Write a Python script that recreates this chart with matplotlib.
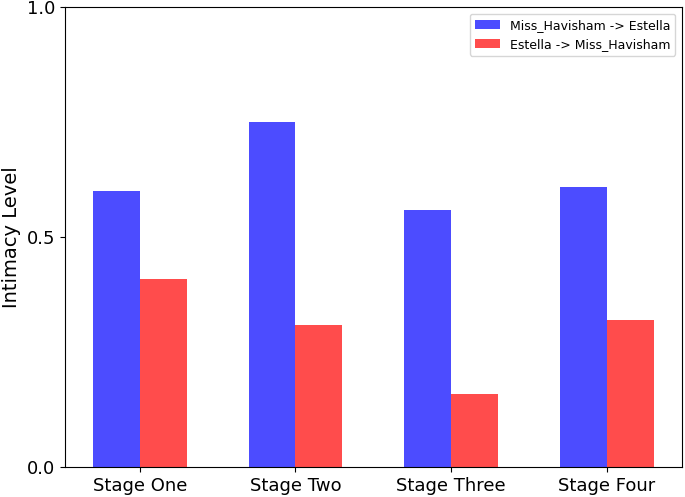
import numpy as np
import matplotlib.pyplot as plt

stages = ['Stage One', 'Stage Two', 'Stage Three', 'Stage Four']
havisham_to_estella = [0.60, 0.75, 0.56, 0.61]
estella_to_havisham = [0.41, 0.31, 0.16, 0.32]

fig, ax = plt.subplots(figsize=(6.85, 4.97), dpi=100)
x = np.arange(len(stages))
w = 0.3
ax.bar(x - w / 2, havisham_to_estella, w, color='blue', alpha=0.7, label='Miss_Havisham -> Estella')
ax.bar(x + w / 2, estella_to_havisham, w, color='red', alpha=0.7, label='Estella -> Miss_Havisham')

ax.set_xticks(x)
ax.set_xticklabels(stages, fontsize=13)
ax.set_yticks([0, 0.5, 1])
ax.set_yticklabels(['0.0', '0.5', '1.0'], fontsize=13)
ax.set_ylim(0, 1)
ax.set_ylabel('Intimacy Level', fontsize=14)
ax.legend(loc='upper right', fontsize=9)

fig.subplots_adjust(left=0.095, right=0.995, top=0.985, bottom=0.06)
fig.savefig('out.png')
